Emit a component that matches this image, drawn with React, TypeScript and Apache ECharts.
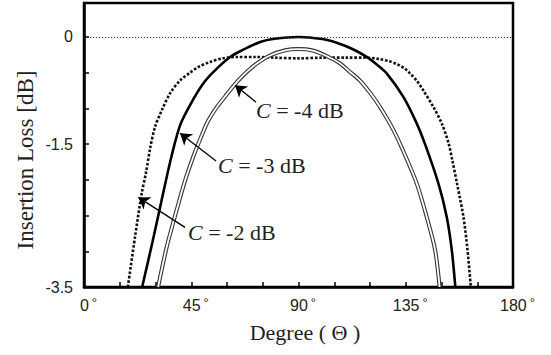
import { useEffect, useRef } from "react";
import * as echarts from "echarts";

// Insertion loss versus angle for three coupling values C (dB)
const cMinus2: [number, number][] = [
  [18.4, -3.5], [21.4, -2.8], [24.2, -2.19], [26.0, -1.9], [27.8, -1.55], [29.8, -1.26],
  [32.6, -1.03], [36.1, -0.79], [40.3, -0.61], [44.5, -0.5], [48, -0.42], [52.9, -0.35],
  [58, -0.3], [64, -0.28], [72, -0.28], [80, -0.29], [90, -0.3], [100, -0.29], [110, -0.29],
  [118, -0.29], [124, -0.31], [128, -0.34], [131.2, -0.38], [134.5, -0.44], [136.8, -0.51],
  [139.8, -0.62], [142.4, -0.75], [146.6, -0.98], [150.1, -1.21], [152.9, -1.48],
  [154.5, -1.72], [156.5, -2.05], [159.2, -2.52], [160.9, -2.98], [162.3, -3.5],
];

const cMinus3: [number, number][] = [
  [24.4, -3.5], [28.8, -2.86], [33.0, -2.22], [36.8, -1.66], [40.5, -1.22], [45.9, -0.87],
  [50.5, -0.63], [55.5, -0.45], [61.3, -0.28], [65.5, -0.2], [73.9, -0.07], [80, -0.025],
  [90, 0], [100, -0.03], [106, -0.08], [110, -0.13], [114.5, -0.2], [118.6, -0.28],
  [123, -0.39], [127, -0.51], [134, -0.84], [139.6, -1.21], [143.1, -1.5], [148.7, -2.05],
  [152.2, -2.52], [154.3, -2.98], [155.8, -3.5],
];

const cMinus4: [number, number][] = [
  [31.1, -3.5], [34.7, -2.94], [38.9, -2.42], [42.5, -2.0], [45.8, -1.68], [48.5, -1.45],
  [52, -1.18], [55.8, -0.98], [60, -0.8], [64.2, -0.63], [68.3, -0.49], [73, -0.36],
  [78, -0.26], [84, -0.19], [90, -0.17], [96, -0.19], [102, -0.27], [107.4, -0.37],
  [111.6, -0.49], [115.8, -0.61], [120, -0.78], [124.2, -0.98], [129.8, -1.3], [134, -1.6],
  [139.6, -2.05], [143.8, -2.52], [147.3, -2.98], [149.2, -3.5],
];

// Reference level (dB)
const zeroLevel = 0;

// Tick labels shown on each axis
const xLabelValues = [0, 45, 90, 135, 180];
const yLabelValues = [0, -1.5, -3.5];

// Callout arrows: [tail, tip] in axis units
const arrows: { tail: [number, number]; tip: [number, number] }[] = [
  { tail: [72.2, -0.913], tip: [63.4, -0.675] },
  { tail: [55.4, -1.738], tip: [40.3, -1.347] },
  { tail: [42.4, -2.666], tip: [22.8, -2.246] },
];

const calloutTexts = ["-4 dB", "-3 dB", "-2 dB"];

const serif = "'Liberation Serif', 'Times New Roman', serif";
const sans = "'Liberation Sans', Arial, sans-serif";

export default function App() {
  const ref = useRef<HTMLDivElement>(null);

  useEffect(() => {
    if (!ref.current) return;
    const chart = echarts.init(ref.current, null, { renderer: "svg" });

    const calloutPos: [number, number][] = [
      [256, 110.5],
      [218, 165.5],
      [188, 232.5],
    ];

    chart.setOption({
      animation: false,
      backgroundColor: "#fff",
      grid: {
        left: 84,
        right: 38,
        top: 3,
        bottom: 68,
        show: true,
        borderColor: "#000",
        borderWidth: 2.5,
      },
      xAxis: {
        type: "value",
        min: 0,
        max: 180,
        interval: 15,
        axisLine: { show: true, onZero: false, lineStyle: { color: "#000", width: 2.5 } },
        axisTick: { show: true, inside: true, length: 5, lineStyle: { color: "#000", width: 1.5 } },
        splitLine: { show: false },
        axisLabel: {
          margin: 9,
          formatter: (v: number) =>
            xLabelValues.some((t) => Math.abs(t - v) < 1e-6) ? `{n|${v}}{d|°}` : "",
          rich: {
            n: {
              fontSize: 16,
              fontFamily: sans,
              color: "#222",
              lineHeight: 18,
              padding: [0, 0, 0, 9],
            },
            d: {
              fontSize: 13,
              fontFamily: sans,
              color: "#222",
              lineHeight: 13,
              verticalAlign: "top",
              padding: [0, 0, 0, 3],
            },
          },
        },
      },
      yAxis: {
        type: "value",
        min: -3.5,
        max: 0.475,
        interval: 0.5,
        axisLine: { show: true, onZero: false, lineStyle: { color: "#000", width: 2.5 } },
        axisTick: { show: true, inside: true, length: 5, lineStyle: { color: "#000", width: 1.5 } },
        splitLine: { show: false },
        axisLabel: {
          margin: 11,
          fontSize: 16,
          fontFamily: sans,
          color: "#222",
          formatter: (v: number) => {
            const hit = yLabelValues.find((t) => Math.abs(t - v) < 1e-6);
            return hit === undefined ? "" : String(hit);
          },
        },
      },
      series: [
        {
          name: "C = -2 dB",
          type: "line",
          data: cMinus2,
          showSymbol: false,
          smooth: 0.3,
          lineStyle: { color: "#111", width: 2.6, type: [2.6, 1.8] },
          markLine: {
            silent: true,
            symbol: "none",
            label: { show: false },
            lineStyle: { color: "#333", width: 1.2, type: [1.2, 1.8] },
            data: [{ yAxis: zeroLevel }],
          },
        },
        {
          name: "C = -4 dB",
          type: "line",
          data: cMinus4,
          showSymbol: false,
          smooth: 0.3,
          lineStyle: { color: "#333", width: 4 },
        },
        {
          name: "C = -4 dB inner",
          type: "line",
          data: cMinus4,
          showSymbol: false,
          smooth: 0.3,
          lineStyle: { color: "#fff", width: 1.8 },
        },
        {
          name: "C = -3 dB",
          type: "line",
          data: cMinus3,
          showSymbol: false,
          smooth: 0.3,
          lineStyle: { color: "#000", width: 2.6 },
          markLine: {
            silent: true,
            symbol: ["none", "arrow"],
            symbolSize: 11,
            label: { show: false },
            lineStyle: { color: "#000", width: 1.3, type: "solid" },
            data: arrows.map((a) => [{ coord: a.tail }, { coord: a.tip }]),
          },
        },
      ],
      graphic: [
        {
          type: "text",
          x: 25,
          y: 160,
          rotation: Math.PI / 2,
          style: {
            text: "Insertion Loss [dB]",
            fontSize: 23,
            fontFamily: serif,
            fill: "#222",
            align: "center",
            verticalAlign: "middle",
          },
        },
        {
          type: "text",
          x: 305,
          y: 332,
          style: {
            text: "Degree ( Θ )",
            fontSize: 22,
            fontFamily: serif,
            fill: "#222",
            align: "center",
            verticalAlign: "middle",
          },
        },
        ...calloutTexts.map((t, i) => ({
          type: "text",
          x: calloutPos[i][0],
          y: calloutPos[i][1],
          style: {
            text: `{i|C} = ${t}`,
            fontSize: 22,
            fontFamily: serif,
            fill: "#222",
            align: "left",
            verticalAlign: "middle",
            rich: {
              i: { fontSize: 22, fontFamily: serif, fontStyle: "italic", fill: "#222" },
            },
          },
        })),
      ],
    });

    return () => chart.dispose();
  }, []);

  return (
    <div
      ref={ref}
      style={{ position: "fixed", left: 0, top: 0, width: 551, height: 355, background: "#fff" }}
    />
  );
}
